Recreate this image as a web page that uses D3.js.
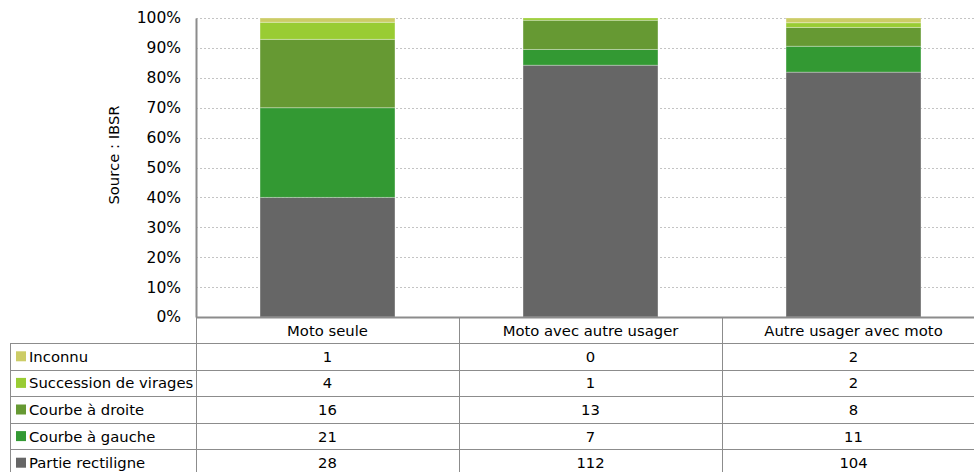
<!DOCTYPE html>
<html>
<head>
<meta charset="utf-8">
<script src="https://cdn.jsdelivr.net/npm/d3@7"></script>
<style>
  html, body { margin: 0; padding: 0; background: #fff; }
  svg { display: block; font-family: "DejaVu Sans", sans-serif; }
</style>
</head>
<body>
<svg id="chart" width="974" height="472"></svg>
<script>
// Accident configuration by road layout (counts), drawn as 100% stacked bars
const categories = ["Moto seule", "Moto avec autre usager", "Autre usager avec moto"];
const seriesNames = ["Partie rectiligne", "Courbe à gauche", "Courbe à droite", "Succession de virages", "Inconnu"];
const partieRectiligne = [28, 112, 104];
const courbeGauche = [21, 7, 11];
const courbeDroite = [16, 13, 8];
const successionVirages = [4, 1, 2];
const inconnu = [1, 0, 2];
const seriesColors = ["#666666", "#339933", "#669933", "#99CC33", "#CCCC66"];
const yTicks = [0, 0.1, 0.2, 0.3, 0.4, 0.5, 0.6, 0.7, 0.8, 0.9, 1.0];
const axisTitle = "Source : IBSR";

const seriesValues = [partieRectiligne, courbeGauche, courbeDroite, successionVirages, inconnu];

const svg = d3.select("#chart");
const W = 974;
const plotLeft = 196, plotRight = 985, plotTop = 18, plotBottom = 317;
const fs = 14.8;

const x = d3.scaleBand().domain(categories).range([plotLeft, plotRight]).paddingInner(0).paddingOuter(0);
const y = d3.scaleLinear().domain([0, 1]).range([plotBottom, plotTop]);

// gridlines
svg.append("g").selectAll("line").data(yTicks.filter(d => d > 0)).join("line")
  .attr("x1", plotLeft).attr("x2", W)
  .attr("y1", d => Math.round(y(d)) + 0.5).attr("y2", d => Math.round(y(d)) + 0.5)
  .attr("stroke", "#c4c4c4").attr("stroke-width", 1).attr("stroke-dasharray", "2,2");

// stacked shares
const rows = categories.map((c, i) => {
  const o = { cat: c };
  seriesNames.forEach((s, k) => o[s] = seriesValues[k][i]);
  o.total = d3.sum(seriesValues, v => v[i]);
  return o;
});
const stack = d3.stack().keys(seriesNames).value((d, k) => d[k] / d.total);
const stacked = stack(rows);

const barW = x.bandwidth() * 0.513;
svg.append("g").selectAll("g").data(stacked).join("g")
  .attr("fill", (d, i) => seriesColors[i])
  .selectAll("rect").data(d => d).join("rect")
  .attr("x", d => x(d.data.cat) + (x.bandwidth() - barW) / 2)
  .attr("width", barW)
  .attr("y", d => y(d[1]))
  .attr("height", d => Math.max(0, y(d[0]) - y(d[1])))
  .attr("stroke", "rgba(255,255,255,0.3)").attr("stroke-width", 1);

// y axis
const yAxis = d3.axisLeft(y).tickValues(yTicks).tickSize(0).tickPadding(15)
  .tickFormat(d3.format(".0%"));
const gy = svg.append("g").attr("transform", `translate(${plotLeft},0)`).call(yAxis);
gy.select(".domain").attr("stroke", "#8c8c8c").attr("stroke-width", 2);
gy.selectAll("text").attr("font-size", 15.5).attr("fill", "#000")
  .attr("font-family", "DejaVu Sans, sans-serif");

svg.append("text")
  .attr("transform", `translate(119,155) rotate(-90)`)
  .attr("text-anchor", "middle").attr("font-size", fs).attr("fill", "#000")
  .text(axisTitle);

// data table under the plot
const headTop = plotBottom, headH = 26;
const rowTop = headTop + headH, rowH = 26.6;
const tableLeft = 10;
const lineColor = "#8c8c8c";
const tbl = svg.append("g");

// header labels
tbl.selectAll("text.head").data(categories).join("text")
  .attr("class", "head")
  .attr("x", d => x(d) + x.bandwidth() / 2).attr("y", headTop + headH / 2 + 5.5)
  .attr("text-anchor", "middle").attr("font-size", fs).text(d => d);

// legend rows, top row is the last series
const tableSeries = seriesNames.map((s, k) => ({ name: s, vals: seriesValues[k], color: seriesColors[k] })).reverse();
tableSeries.forEach((s, r) => {
  const ry = rowTop + r * rowH;
  tbl.append("rect").attr("x", 16).attr("y", ry + rowH / 2 - 5)
    .attr("width", 10).attr("height", 10).attr("fill", s.color);
  tbl.append("text").attr("x", 29).attr("y", ry + rowH / 2 + 5.5)
    .attr("font-size", fs).text(s.name);
  categories.forEach((c, i) => {
    tbl.append("text").attr("x", x(c) + x.bandwidth() / 2).attr("y", ry + rowH / 2 + 5.5)
      .attr("text-anchor", "middle").attr("font-size", fs).text(s.vals[i]);
  });
});

// table grid lines
const nRows = tableSeries.length;
const tableBottom = rowTop + nRows * rowH;
for (let r = 0; r <= nRows; r++) {
  const yy = Math.round(rowTop + r * rowH) + 0.5;
  tbl.append("line").attr("x1", tableLeft + 0.5).attr("x2", W).attr("y1", yy).attr("y2", yy)
    .attr("stroke", lineColor);
}
tbl.append("line").attr("x1", tableLeft + 0.5).attr("x2", tableLeft + 0.5)
  .attr("y1", rowTop).attr("y2", tableBottom).attr("stroke", lineColor);
categories.forEach((c) => {
  const xx = Math.round(x(c)) + 0.5;
  tbl.append("line").attr("x1", xx).attr("x2", xx)
    .attr("y1", plotBottom).attr("y2", tableBottom).attr("stroke", lineColor);
});
// bottom axis line of the plot
tbl.append("line").attr("x1", plotLeft).attr("x2", W).attr("y1", plotBottom + 0.5).attr("y2", plotBottom + 0.5)
  .attr("stroke", lineColor).attr("stroke-width", 2);
</script>
</body>
</html>
